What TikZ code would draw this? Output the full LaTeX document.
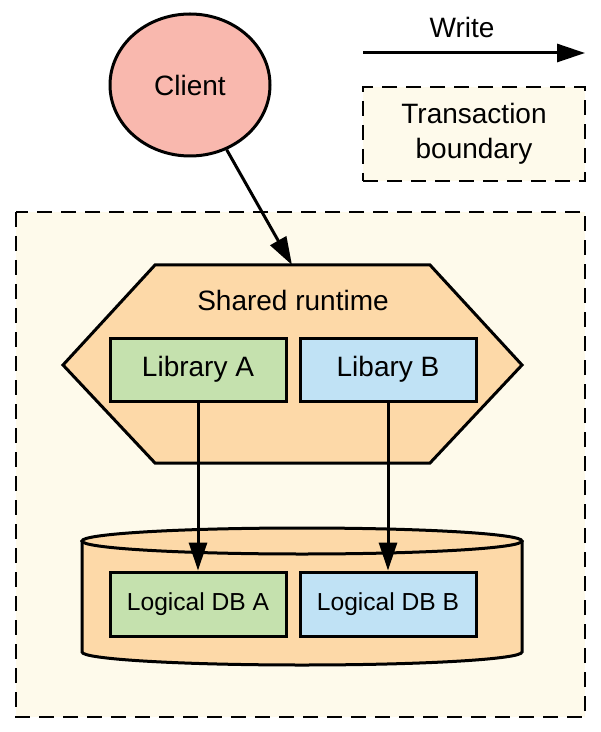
\documentclass[tikz,border=0pt]{standalone}
\usepackage{fontspec}
\setmainfont{Liberation Sans}
\usepackage{xcolor}
\usetikzlibrary{arrows.meta, positioning, shapes.geometric}

\definecolor{clientpink}{HTML}{F9B8AE}
\definecolor{txcream}{HTML}{FEFAEB}
\definecolor{rtorange}{HTML}{FDD9A8}
\definecolor{libgreen}{HTML}{C5E1AE}
\definecolor{libblue}{HTML}{C0E2F5}

\begin{document}
\begin{tikzpicture}[x=0.5pt, y=-0.5pt,
    lbl/.style={font=\fontsize{14}{17.5}\selectfont, align=center},
    box/.style={draw, line width=1.5pt, minimum width=88pt, minimum height=31.5pt, inner sep=0pt, lbl},
    dbbox/.style={box, font=\fontsize{12.3}{15}\selectfont},
    tx/.style={draw, dashed, dash pattern=on 7.5pt off 4.5pt, line width=1pt, fill=txcream},
    shape2/.style={draw, line width=1.5pt, fill=rtorange},
    arr/.style={-{Triangle[length=14pt, width=9pt]}, line width=1.5pt}]
  \useasboundingbox (0,0) rectangle (600,732);

  % legend
  \coordinate (w0) at (363,53);
  \coordinate (w1) at (585,53);
  \draw[arr] (w0) -- (w1);
  \node[lbl] (wlbl) at (462,27) {Write};
  \node[tx, lbl, minimum width=111pt, minimum height=47pt] (txlegend) at (474,134) {Transaction\\boundary};

  % transaction boundary
  \draw[tx] (16,212) rectangle (585,717);

  % client
  \node[ellipse, draw, line width=1.5pt, fill=clientpink, minimum width=80pt, minimum height=71pt, lbl]
    (client) at (190,85) {Client};

  % shared runtime
  \draw[shape2] (155,265) -- (430,265) -- (522,365) -- (430,463) -- (155,463) -- (63,365) -- cycle;
  \coordinate (rt) at (292,265);
  \node[lbl] (rtlbl) at (293,300) {Shared runtime};
  \node[box, fill=libgreen] (libA) at (198,369.5) {Library A};
  \node[box, fill=libblue, right=5.5pt of libA] (libB) {Libary B};

  % database
  \fill[rtorange] (82,541) -- (82,652) arc[start angle=180, end angle=0, x radius=220, y radius=13] -- (522,541) -- cycle;
  \draw[line width=1.5pt] (82,541) -- (82,652) arc[start angle=180, end angle=0, x radius=220, y radius=13] -- (522,541);
  \draw[shape2] (302,541) ellipse[x radius=220, y radius=13];
  \node[dbbox, fill=libgreen, minimum height=32pt] (dbA) at (198,604) {Logical DB A};
  \node[dbbox, fill=libblue, minimum height=32pt, right=5.5pt of dbA] (dbB) {Logical DB B};

  % writes
  \draw[arr] (client) -- (rt);
  \draw[arr] (libA) -- (dbA);
  \draw[arr] (libB) -- (dbB);
\end{tikzpicture}
\end{document}
